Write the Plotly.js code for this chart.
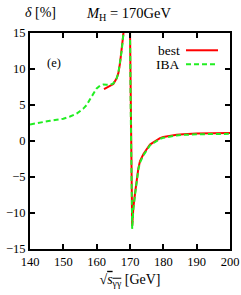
<!DOCTYPE html>
<html><head><meta charset="utf-8">
<script src="https://cdn.plot.ly/plotly-3.0.1.min.js"></script>
<style>html,body{margin:0;padding:0;background:#fff}#c{width:241px;height:295px}</style>
</head><body><div id="c"></div>
<script>
// IBA (green dashed)
const ibaX = [140,142,144,146,148,150,152,154,156,157,158,159,160,161,162,163,164,165,166,166.5,167,167.5,168,168.3,169.9,170.0,170.2,170.4,170.55,170.65,170.8,171,171.5,172,172.5,173,174,175,176,177,178,179,180,182,184,186,188,190,195,200];
const ibaY = [2.3,2.5,2.65,2.8,2.95,3.1,3.4,3.8,4.5,5.0,5.8,6.6,7.3,7.7,7.85,7.8,7.8,8.0,8.7,9.4,10.8,12.5,14.8,17,17,15.5,5,-5,-11,-12.2,-11,-9.5,-7.5,-5.5,-4.0,-3.0,-2.0,-1.3,-0.6,-0.3,0.05,0.3,0.45,0.65,0.78,0.85,0.9,0.93,0.97,1.0];
// best (red solid)
const bestX = [162.2,163,164,165,166,166.5,167,167.5,168,168.3,169.9,170.0,170.2,170.4,170.55,170.65,170.8,171,171.5,172,172.5,173,174,175,176,177,178,179,180,182,184,186,188,190,195,200];
const bestY = [7.2,7.4,7.55,7.9,8.7,9.4,10.8,12.5,14.8,17,17,15.5,5,-5,-11,-11.8,-10.8,-9.3,-7.3,-5.3,-3.8,-2.8,-1.85,-1.15,-0.5,-0.2,0.15,0.4,0.55,0.75,0.88,0.95,1.0,1.03,1.07,1.1];
const xTicks = [140,150,160,170,180,190,200];
const yTicks = [-15,-10,-5,0,5,10,15];
const yTickText = ['\u221215','\u221210','\u22125','0','5','10','15'];

const F = 'Liberation Serif, DejaVu Serif, serif';
const traces = [
  {x: bestX, y: bestY, mode: 'lines', line: {color: '#ff0000', width: 2}, name: 'best'},
  {x: ibaX, y: ibaY, mode: 'lines', line: {color: '#22ee22', width: 2, dash: '5px,3px'}, name: 'IBA'}
];
const axisCommon = {showline: true, linecolor: '#000', linewidth: 2, mirror: 'ticks', ticks: 'inside', ticklen: 5, tickwidth: 2, tickcolor: '#000', showgrid: false, zeroline: false, tickfont: {family: F, size: 12.5, color: '#000'}};
const layout = {
  width: 241, height: 295,
  margin: {l: 30, r: 11, t: 33, b: 46},
  paper_bgcolor: '#fff', plot_bgcolor: '#fff',
  showlegend: false,
  font: {family: F, color: '#000'},
  title: {text: '<i>M</i><sub>H</sub> = 170GeV', font: {family: F, size: 14.5, color: '#000'}, x: 0.535, xanchor: 'center', y: 0.955, yanchor: 'middle'},
  xaxis: Object.assign({}, axisCommon, {range: [140, 200], tickvals: xTicks, ticktext: xTicks.map(String),
    title: {text: '\u221A<span style="text-decoration:overline"><i>s</i><sub>\u03B3\u03B3</sub></span> [GeV]', font: {family: F, size: 14, color: '#000'}, standoff: 6}}),
  yaxis: Object.assign({}, axisCommon, {range: [-15, 15], tickvals: yTicks, ticktext: yTickText}),
  annotations: [
    {xref: 'paper', yref: 'paper', x: 0.05, y: 1.095, xanchor: 'center', yanchor: 'middle', text: '<i>\u03B4</i> [%]', showarrow: false, font: {family: F, size: 14, color: '#000'}},
    {xref: 'x', yref: 'y', x: 147.2, y: 10.8, text: '(e)', showarrow: false, font: {family: F, size: 12.5, color: '#000'}},
    {xref: 'paper', yref: 'paper', x: 0.76, y: 0.92, xanchor: 'right', yanchor: 'middle', text: 'best', showarrow: false, font: {family: F, size: 13.5, color: '#000'}},
    {xref: 'paper', yref: 'paper', x: 0.76, y: 0.855, xanchor: 'right', yanchor: 'middle', text: 'IBA', showarrow: false, font: {family: F, size: 13.5, color: '#000'}}
  ],
  shapes: [
    {type: 'line', xref: 'paper', yref: 'paper', x0: 0.78, x1: 0.94, y0: 0.92, y1: 0.92, line: {color: '#ff0000', width: 2}},
    {type: 'line', xref: 'paper', yref: 'paper', x0: 0.78, x1: 0.94, y0: 0.855, y1: 0.855, line: {color: '#22ee22', width: 2, dash: '5px,3px'}}
  ]
};
Plotly.newPlot('c', traces, layout, {displayModeBar: false, staticPlot: true});
</script></body></html>
